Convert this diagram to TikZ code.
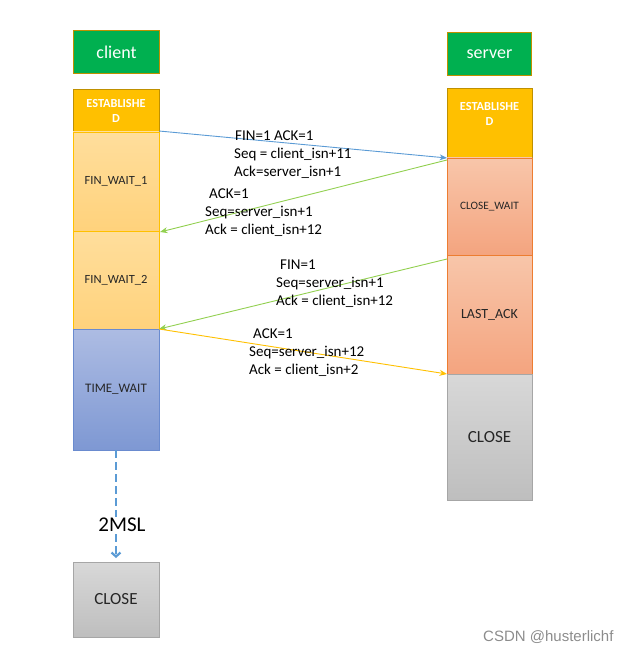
\documentclass[tikz,border=0pt]{standalone}
\usepackage{fontspec}
\setmainfont{Carlito}
\setsansfont{Liberation Sans}
\usetikzlibrary{positioning,arrows.meta}

\definecolor{hdgreen}{HTML}{00B050}
\definecolor{hdedge}{HTML}{BF9000}
\definecolor{estab}{HTML}{FFC000}
\definecolor{waittop}{HTML}{FFDE9C}
\definecolor{waitbot}{HTML}{FFD27C}
\definecolor{timetop}{HTML}{ADBCE3}
\definecolor{timebot}{HTML}{7E98D3}
\definecolor{timeedge}{HTML}{6A8BCF}
\definecolor{salmtop}{HTML}{F8C6AA}
\definecolor{salmbot}{HTML}{F4A47F}
\definecolor{salmedge}{HTML}{ED7D31}
\definecolor{greytop}{HTML}{D8D8D8}
\definecolor{greybot}{HTML}{BEBEBE}
\definecolor{greyedge}{HTML}{A6A6A6}
\definecolor{msgblue}{HTML}{5B9BD5}
\definecolor{msggreen}{HTML}{92D050}
\definecolor{txtdark}{HTML}{262626}

\begin{document}
\begin{tikzpicture}[x=1pt, y=-1pt, >={Stealth[length=7.5pt,width=6pt]},
    head/.style={draw=hdedge, fill=hdgreen, text=white, line width=1pt,
        minimum height=43pt, inner sep=0pt, font=\fontsize{18}{20}\selectfont},
    state/.style={inner sep=0pt, outer sep=0pt, align=center, text=txtdark, line width=0.8pt},
    est/.style={state, draw=hdedge, fill=estab, text=white,
        font=\bfseries\fontsize{12.3}{15}\selectfont},
    wait/.style={state, draw=estab, top color=waittop, bottom color=waitbot,
        font=\fontsize{12.5}{14}\selectfont},
    timew/.style={state, draw=timeedge, top color=timetop, bottom color=timebot,
        font=\fontsize{13}{15}\selectfont},
    salm/.style={state, draw=salmedge, top color=salmtop, bottom color=salmbot},
    closed/.style={state, draw=greyedge, top color=greytop, bottom color=greybot,
        font=\fontsize{17}{20}\selectfont},
    msg/.style={anchor=north west, inner sep=0pt, align=left, text=black,
        font=\fontsize{15}{17.7}\selectfont}]

    \useasboundingbox (0,0) rectangle (631,652);

    % client column
    \node[head, minimum width=86pt, anchor=north west] (client) at (73,30) {client};
    \node[est, minimum width=86pt, minimum height=43pt, anchor=north west] (cest) at (73,89) {ESTABLISHE\\D};
    \node[wait, minimum width=86pt, minimum height=99pt, below=0pt of cest] (cfw1) {FIN\_WAIT\_1};
    \node[wait, minimum width=86pt, minimum height=98pt, below=0pt of cfw1] (cfw2) {FIN\_WAIT\_2};
    \node[timew, minimum width=86pt, minimum height=121pt, below=0pt of cfw2] (ctw) {TIME\_WAIT};
    \node[closed, minimum width=86pt, minimum height=75pt, anchor=north west] (cclose) at (73,562) {CLOSE};

    % server column
    \node[head, minimum width=84pt, anchor=north west] (server) at (447,32) {server};
    \node[est, minimum width=85pt, minimum height=70pt, text depth=18pt, anchor=north west] (sest) at (447,88) {ESTABLISHE\\D};
    \node[salm, minimum width=85pt, minimum height=97pt, below=0pt of sest,
        font=\fontsize{11.3}{14}\selectfont] (scw) {CLOSE\_WAIT};
    \node[salm, minimum width=85pt, minimum height=119pt, below=0pt of scw,
        font=\fontsize{14}{16}\selectfont] (slast) {LAST\_ACK};
    \node[closed, minimum width=85pt, minimum height=126pt, below=0pt of slast] (sclose) {CLOSE};

    % messages
    \draw[->, msgblue, line width=0.9pt] ([yshift=1pt]cest.south east) -- (sest.south west);
    \node[msg] (fin1) at (234,131) {\hspace*{1pt}FIN=1 ACK=1\\Seq = client\_isn+11\\Ack=server\_isn+1};

    \draw[->, msggreen, line width=0.9pt] ([yshift=-2pt]scw.north west) -- ([xshift=1pt,yshift=-1pt]cfw1.south east);
    \node[msg] (ack1) at (205,189) {\hspace*{4pt}ACK=1\\Seq=server\_isn+1\\Ack = client\_isn+12};

    \draw[->, msggreen, line width=0.9pt] ([yshift=-4pt]slast.north west) -- (cfw2.south east);
    \node[msg] (fin2) at (276,260) {\hspace*{4pt}FIN=1\\Seq=server\_isn+1\\Ack = client\_isn+12};

    \draw[->, estab, line width=0.9pt] (ctw.north east) -- (sclose.north west);
    \node[msg] (ack2) at (249,329) {\hspace*{4pt}ACK=1\\Seq=server\_isn+12\\Ack = client\_isn+2};

    % 2MSL wait
    \draw[msgblue, line width=2.2pt, dash pattern=on 8pt off 4pt,
        -{Straight Barb[length=4pt,width=9pt]}] (ctw.south) -- ([yshift=4pt]cclose.north)
        node[pos=0.69, xshift=6pt, fill=white, inner sep=1pt, text=black,
            font=\fontsize{21}{24}\selectfont] (msl) {2MSL};

    \node[anchor=base east, font=\sffamily\fontsize{15}{17}\selectfont, text=black!45] (csdn) at (617,641) {CSDN @husterlichf};
\end{tikzpicture}
\end{document}
